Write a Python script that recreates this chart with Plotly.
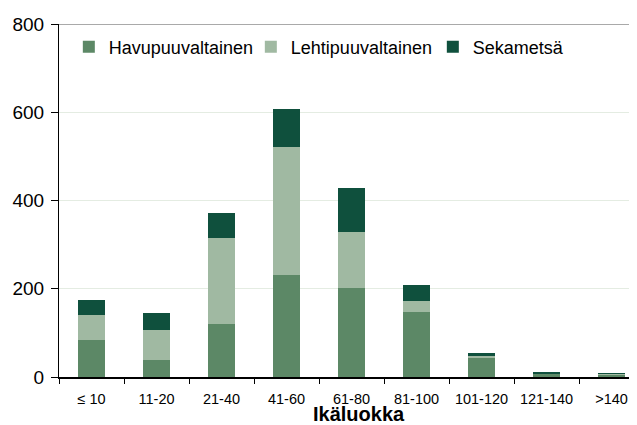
import plotly.graph_objects as go

categories = ["≤ 10", "11-20", "21-40", "41-60", "61-80", "81-100", "101-120", "121-140", ">140"]
havupuu = [84, 38, 120, 231, 202, 147, 42, 7, 6]
lehtipuu = [56, 68, 195, 290, 126, 25, 5, 2, 1]
sekametsa = [35, 39, 57, 86, 100, 36, 7, 2, 2]
y_ticks = [0, 200, 400, 600, 800]

FONT = "Arial, Liberation Sans, sans-serif"
colors = {"Havupuuvaltainen": "#5C8866", "Lehtipuuvaltainen": "#A0B9A2", "Sekametsä": "#0F503D"}

fig = go.Figure()
for name, vals in [("Havupuuvaltainen", havupuu), ("Lehtipuuvaltainen", lehtipuu), ("Sekametsä", sekametsa)]:
    fig.add_trace(go.Bar(x=categories, y=vals, name=name, marker_color=colors[name],
                         marker_line_width=0, width=0.405))

# page body has an 8px margin; the figure is sized to fit the 637x425 window
W, H = 629, 417
L, T, B = 51, 16, 48
PH = H - T - B

fig.update_layout(
    barmode="stack",
    width=W, height=H,
    margin=dict(l=L, r=0, t=T, b=B),
    paper_bgcolor="white", plot_bgcolor="white",
    font=dict(family=FONT, color="black"),
    showlegend=True,
    legend=dict(orientation="h", x=0.017, y=1 - 23 / PH, xanchor="left", yanchor="middle",
                font=dict(size=18, family=FONT), traceorder="normal",
                entrywidth=137, entrywidthmode="pixels",
                bgcolor="rgba(0,0,0,0)"),
    xaxis=dict(range=[-0.5, 8.392], showline=True, linecolor="black", linewidth=1.5,
               ticks="outside", tickson="boundaries", ticklen=5, tickcolor="black",
               tickfont=dict(size=14.5), showgrid=False, fixedrange=True,
               ticklabelstandoff=8, automargin=False),
    yaxis=dict(range=[0, 800], tickvals=y_ticks, showline=True, linecolor="black", linewidth=1,
               ticks="outside", ticklen=7, tickcolor="black", tickfont=dict(size=19),
               showgrid=True, gridcolor="#E4ECE2", gridwidth=1, zeroline=False,
               ticklabelstandoff=3, automargin=False),
    shapes=[dict(type="line", xref="paper", yref="y", x0=0, x1=1, y0=800, y1=800,
                 line=dict(color="#8C8C8C", width=1.5))],
    annotations=[
        dict(text="1 000 ha", xref="paper", yref="paper", x=(93 - 8 - L) / (W - L), y=1 + 28 / PH,
             xanchor="left", yanchor="middle", showarrow=False, font=dict(size=18)),
        dict(text="<b>Ikäluokka</b>", xref="paper", yref="paper", x=(358.5 - 8 - L) / (W - L),
             y=-(414 - 377) / PH, xanchor="center", yanchor="middle", showarrow=False,
             font=dict(size=20)),
    ],
)

fig.write_html("out.html")
